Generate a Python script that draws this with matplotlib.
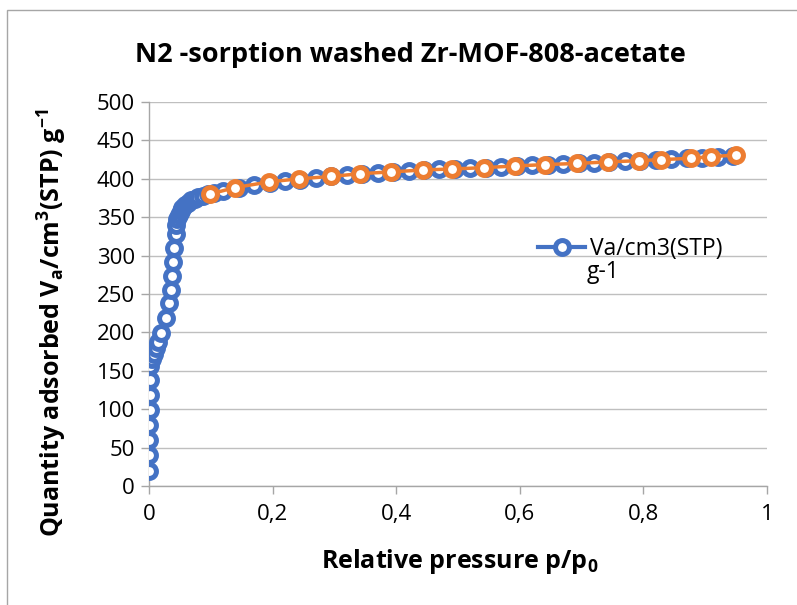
import matplotlib
matplotlib.use("Agg")
import matplotlib.pyplot as plt
from matplotlib.patches import Rectangle

plt.rcParams['font.family'] = ['Open Sans', 'DejaVu Sans']
plt.rcParams['mathtext.fontset'] = 'custom'
plt.rcParams['mathtext.rm'] = 'Open Sans'
plt.rcParams['mathtext.bf'] = 'Open Sans:bold'
plt.rcParams['mathtext.default'] = 'bf'

# Adsorption branch (blue)
ads_p = [0.0005, 0.0006, 0.0007, 0.0008, 0.0009, 0.0010, 0.0012, 0.0020,
         0.005, 0.008, 0.011, 0.014, 0.020, 0.028, 0.032, 0.036, 0.038,
         0.039, 0.041, 0.043, 0.044, 0.046, 0.048, 0.051, 0.054, 0.058,
         0.063, 0.068, 0.074, 0.080, 0.087, 0.095, 0.105,
         0.12, 0.145, 0.17, 0.195, 0.22, 0.245, 0.27, 0.295, 0.32, 0.345,
         0.37, 0.395, 0.42, 0.445, 0.47, 0.495, 0.52, 0.545, 0.57, 0.595,
         0.62, 0.645, 0.67, 0.695, 0.72, 0.745, 0.77, 0.795, 0.82, 0.845,
         0.87, 0.895, 0.92, 0.945]
ads_v = [20, 40, 60, 79, 99, 118, 138, 156,
         165, 172, 180, 187, 199, 219, 238, 255, 273,
         292, 310, 328, 340, 348, 353, 358, 362, 366,
         369, 372, 374, 376, 378, 380, 382,
         384, 388, 392, 395, 397, 399, 401, 403, 405, 406.5,
         408, 409, 410.5, 411.5, 412.5, 413, 414, 414.5, 416, 417,
         417.5, 418.5, 419.5, 420, 421, 422, 423, 423.5, 424.5, 425.5,
         426.5, 427.5, 429, 430]

# Desorption branch (orange)
des_p = [0.950, 0.910, 0.877, 0.829, 0.793, 0.742, 0.692, 0.641, 0.592,
         0.542, 0.491, 0.443, 0.392, 0.342, 0.294, 0.243, 0.194, 0.139, 0.098]
des_v = [431, 428.8, 426.7, 425, 423.6, 422, 420, 418.5, 416.7,
         414.5, 412.8, 411.5, 409, 406.7, 403, 400, 396, 388.5, 380]

title = "N2 -sorption washed Zr-MOF-808-acetate"
legend_label = "Va/cm3(STP)"
legend_label2 = "g-1"
x_ticks = [0, 0.2, 0.4, 0.6, 0.8, 1.0]
x_ticklabels = ["0", "0,2", "0,4", "0,6", "0,8", "1"]
y_ticks = list(range(0, 501, 50))

W, H = 797, 605
fig = plt.figure(figsize=(W / 100, H / 100), dpi=100)
ax = fig.add_axes([149 / W, 1 - 486 / H, (767 - 149) / W, (486 - 102) / H])

blue = "#4472C4"
orange = "#ED7D31"
ms, mew = 10.0, 3.6
ax.plot(ads_p, ads_v, color=blue, lw=3, marker="o", ms=ms, mew=mew,
        mfc="white", mec=blue, label=legend_label, zorder=3)
ax.plot(des_p, des_v, color=orange, lw=2.5, marker="o", ms=ms, mew=mew,
        mfc="white", mec=orange, zorder=4)

ax.set_xlim(0, 1)
ax.set_ylim(0, 500)
ax.set_xticks(x_ticks)
ax.set_xticklabels(x_ticklabels)
ax.set_yticks(y_ticks)
ax.grid(axis="y", color="#BFBFBF", lw=1)
ax.set_axisbelow(True)
for s in ["top", "right"]:
    ax.spines[s].set_visible(False)
for s in ["left", "bottom"]:
    ax.spines[s].set_color("#A6A6A6")
    ax.spines[s].set_linewidth(1)
ax.tick_params(axis="both", colors="#A6A6A6", labelcolor="black",
               labelsize=16, length=6, width=1, direction="out")
ax.tick_params(axis="y", pad=4)
ax.tick_params(axis="x", pad=7)

fig.text(410 / W, 1 - 55 / H, title, ha="center", va="center",
         fontsize=19.5, fontweight="bold")
fig.text(460 / W, 1 - 562 / H, r"Relative pressure p/p$_{0}$",
         ha="center", va="center", fontsize=18, fontweight="bold")
fig.text(52 / W, 1 - 323 / H,
         r"Quantity adsorbed V$_{a}$/cm$^{3}$(STP) g$^{-1}$",
         ha="center", va="center", rotation=90, fontsize=18, fontweight="bold")

leg = ax.legend(loc="upper left", bbox_to_anchor=(529 / W, 1 - 228 / H),
                bbox_transform=fig.transFigure, frameon=False, fontsize=16.5,
                handlelength=2.05, handletextpad=0.22, borderaxespad=0)
fig.text(587 / W, 1 - 272 / H, legend_label2, ha="left", va="center",
         fontsize=16.5)

fig.add_artist(Rectangle((7 / W, -0.1), 1.2, 1 - 10 / H + 0.1,
                         transform=fig.transFigure, fill=False,
                         edgecolor="#A6A6A6", lw=1))

fig.savefig("out.png", dpi=100)
